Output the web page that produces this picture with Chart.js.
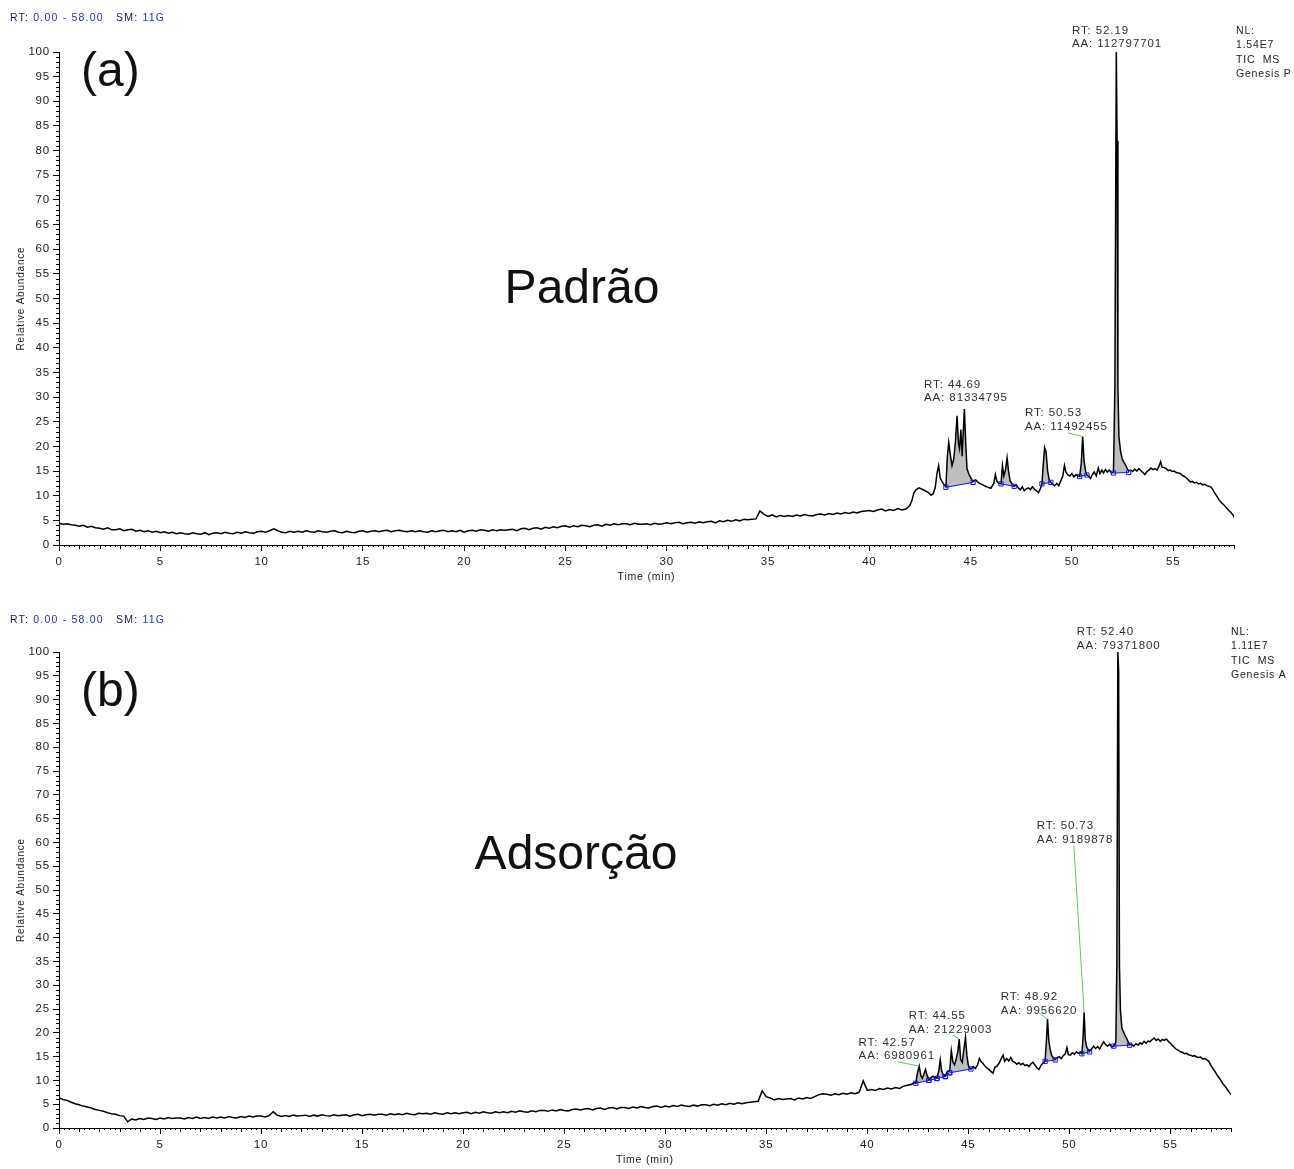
<!DOCTYPE html>
<html>
<head>
<meta charset="utf-8">
<title>TIC MS – Padrão / Adsorção</title>
<script src="https://cdn.jsdelivr.net/npm/chart.js@4.4.1/dist/chart.umd.min.js"></script>
<style>
  html, body { margin: 0; padding: 0; background: #fff; }
  #wrap { position: relative; width: 1294px; height: 1169px; }
  canvas { position: absolute; left: 0; }
  #chartA { top: 0; }
  #chartB { top: 600px; }
</style>
</head>
<body>
<div id="wrap">
  <canvas id="chartA" width="1294" height="600"></canvas>
  <canvas id="chartB" width="1294" height="569"></canvas>
</div>
<script>
// ========== EIXOS ==========
const xTicks = [0, 5, 10, 15, 20, 25, 30, 35, 40, 45, 50, 55];
const yTicks = [0, 5, 10, 15, 20, 25, 30, 35, 40, 45, 50, 55, 60, 65, 70, 75, 80, 85, 90, 95, 100];
const gridStep = 0.2; // min, trecho 0–42 min

// ========== (a) PADRÃO ==========
const gridA = [
  4.4,4.2,4.3,4.1,4.0,3.8,4.0,3.6,3.8,3.5,
  3.4,3.2,3.5,3.1,3.1,3.3,2.9,3.1,3.2,2.8,
  3.0,2.7,2.9,2.6,2.8,2.5,2.7,2.4,2.6,2.3,
  2.5,2.3,2.2,2.5,2.3,2.2,2.5,2.1,2.4,2.5,
  2.3,2.6,2.4,2.3,2.6,2.4,2.7,2.5,2.4,2.7,
  2.8,2.6,2.9,3.3,2.9,2.6,2.5,2.8,2.6,2.8,
  2.6,2.9,2.7,2.6,2.9,2.7,2.6,2.8,2.9,2.6,
  2.5,2.8,2.6,2.5,2.8,2.9,2.6,2.8,2.9,2.7,
  2.9,3.0,2.7,2.9,3.0,2.8,2.7,2.9,2.7,2.9,
  2.7,2.6,2.9,2.7,2.9,3.0,2.7,2.9,2.7,3.0,
  2.6,2.9,3.0,2.8,3.1,3.0,2.8,3.1,2.9,3.1,
  3.0,3.1,3.2,2.9,3.3,3.4,3.1,3.4,3.5,3.2,
  3.6,3.4,3.7,3.5,3.8,3.9,3.6,3.9,3.7,4.0,
  3.9,3.7,4.0,4.1,3.8,4.2,4.0,4.3,4.1,4.3,
  4.3,4.1,4.4,4.2,4.2,4.3,4.1,4.4,4.2,4.3,
  4.5,4.3,4.5,4.6,4.3,4.5,4.6,4.4,4.7,4.5,
  4.7,4.8,4.5,4.9,4.7,5.0,4.8,5.1,4.9,5.2,
  5.1,5.2,5.3,6.9,6.2,5.8,6.1,5.7,6.0,5.8,
  6.0,5.8,6.1,5.9,6.2,6.0,5.9,6.2,6.3,6.1,
  6.4,6.2,6.5,6.3,6.6,6.4,6.7,6.5,6.8,6.9,
  7.0,6.8,7.1,7.3,6.9,7.2,7.0,7.4,7.1,7.3,
  8.0
];
// [min, %] depois de 42 min
const tailA = [
  [42.1,9.0],[42.2,10.6],[42.3,11.2],[42.45,11.6],[42.6,11.3],[42.75,11.0],[42.9,10.7],[43.05,10.1],
  [43.15,10.4],[43.25,11.6],[43.35,14.8],[43.42,16.1],[43.5,13.5],[43.6,12.8],[43.7,12.2],[43.78,11.8],
  [43.85,18.0],[43.92,20.8],[43.99,18.5],[44.08,16.1],[44.17,17.5],[44.25,21.0],[44.33,26.2],[44.4,20.5],
  [44.45,19.5],[44.52,23.4],[44.58,18.0],[44.69,27.6],[44.76,20.5],[44.82,15.5],[44.9,14.5],[44.98,13.8],
  [45.05,13.3],[45.12,12.9],[45.25,13.2],[45.4,12.6],[45.55,12.3],[45.7,12.0],[45.85,11.7],[46.0,11.5],
  [46.15,12.6],[46.22,14.3],[46.3,12.9],[46.4,12.5],[46.5,12.4],[46.57,16.1],[46.64,14.0],[46.72,15.2],
  [46.8,17.7],[46.87,15.0],[46.95,13.0],[47.05,12.4],[47.15,11.9],[47.25,12.2],[47.35,11.6],[47.45,11.2],
  [47.55,11.8],[47.65,11.0],[47.75,11.4],[47.85,11.6],[47.95,11.2],[48.05,11.8],[48.15,11.3],[48.25,11.0],
  [48.35,10.6],[48.45,11.5],[48.52,12.4],[48.58,16.0],[48.65,19.8],[48.72,19.0],[48.8,15.0],[48.88,13.2],
  [48.96,12.7],[49.05,12.3],[49.15,12.0],[49.25,12.5],[49.35,12.0],[49.45,13.0],[49.55,14.0],[49.63,16.1],
  [49.7,14.8],[49.8,14.2],[49.9,14.0],[50.0,14.5],[50.1,13.8],[50.2,14.3],[50.3,14.0],[50.38,13.9],
  [50.46,16.5],[50.53,22.0],[50.6,17.0],[50.68,14.8],[50.74,14.2],[50.82,14.0],[50.92,13.5],[51.0,14.2],
  [51.1,14.8],[51.2,14.0],[51.3,15.6],[51.38,14.5],[51.48,15.2],[51.56,14.6],[51.65,15.3],[51.75,14.8],
  [51.85,15.2],[51.95,14.6],[52.05,14.7],[52.12,32.0],[52.19,100],[52.23,82.0],[52.27,32.0],[52.32,22.0],
  [52.4,19.0],[52.48,17.5],[52.56,16.8],[52.65,16.2],[52.72,15.6],[52.8,15.0],[52.9,15.2],[53.0,14.9],
  [53.1,15.4],[53.2,15.0],[53.3,15.5],[53.4,15.1],[53.5,14.7],[53.6,14.3],[53.7,14.9],[53.8,15.2],
  [53.9,15.6],[54.0,15.3],[54.1,15.5],[54.2,15.2],[54.3,16.0],[54.38,16.9],[54.45,15.8],[54.55,15.7],
  [54.65,15.5],[54.75,15.1],[54.85,15.2],[54.95,14.9],[55.05,15.0],[55.15,14.7],[55.25,14.6],[55.35,14.5],
  [55.45,14.1],[55.55,13.9],[55.65,13.6],[55.75,13.2],[55.85,12.8],[55.95,12.9],[56.05,12.6],[56.15,12.7],
  [56.25,12.4],[56.35,12.5],[56.45,12.2],[56.55,12.3],[56.65,12.1],[56.75,11.9],[56.85,11.8],[56.95,11.3],
  [57.05,10.5],[57.15,9.9],[57.25,9.2],[57.35,8.7],[57.45,8.3],[57.55,7.9],[57.65,7.4],[57.75,7.0],
  [57.85,6.6],[57.95,6.1],[58.0,5.6]
];
// janelas de integração (linha de base azul)
const peakStartA = [43.78, 46.5, 48.52, 50.38, 52.05];
const peakEndA   = [45.12, 47.15, 48.96, 50.74, 52.8];
const baseStartA = [11.7, 12.4, 12.4, 13.9, 14.6];
const baseEndA   = [12.7, 11.9, 12.7, 14.2, 14.7];
const rtA = ['52.19', '44.69', '50.53'];
const aaA = ['112797701', '81334795', '11492455'];

// ========== (b) ADSORÇÃO ==========
const gridB = [
  6.3,6.0,5.8,5.4,5.1,4.9,4.6,4.4,4.2,3.9,
  3.7,3.5,3.2,3.0,2.9,2.6,2.5,1.3,1.9,1.7,
  2.0,1.8,2.1,2.0,1.8,2.1,1.9,2.2,2.0,2.1,
  2.1,1.9,2.2,2.0,2.3,2.0,2.2,2.0,2.3,2.1,
  2.3,2.1,2.4,2.2,2.1,2.4,2.2,2.5,2.3,2.5,
  2.5,2.3,2.6,3.4,2.7,2.4,2.6,2.4,2.7,2.5,
  2.6,2.7,2.4,2.7,2.5,2.8,2.6,2.5,2.8,2.6,
  2.7,2.8,2.5,2.8,2.9,2.6,2.8,2.9,2.7,2.9,
  2.9,2.7,3.0,2.8,3.0,2.8,3.1,2.9,2.8,3.1,
  3.0,3.1,2.9,3.2,3.0,2.9,3.2,3.0,3.2,3.0,
  3.2,3.3,3.0,3.3,3.1,3.4,3.2,3.1,3.4,3.2,
  3.4,3.2,3.5,3.3,3.6,3.4,3.3,3.6,3.4,3.7,
  3.7,3.5,3.8,3.6,3.9,3.7,3.6,3.9,4.0,3.8,
  4.0,4.1,3.8,4.1,4.2,3.9,4.2,4.3,4.0,4.3,
  4.3,4.1,4.4,4.2,4.5,4.3,4.2,4.5,4.6,4.3,
  4.6,4.4,4.7,4.5,4.8,4.6,4.5,4.8,4.6,4.9,
  4.9,4.7,5.0,4.8,5.1,4.9,5.2,5.0,5.3,5.1,
  5.3,5.4,5.5,5.6,7.8,6.6,6.3,5.9,6.2,6.0,
  6.1,6.2,5.9,6.3,6.1,6.4,6.2,6.6,7.0,7.2,
  7.1,6.9,7.2,7.0,7.3,7.1,7.4,7.2,7.5,9.9,
  7.9,8.1,7.9,8.3,8.1,8.4,8.2,8.5,8.3,8.8,
  9.0
];
const tailB = [
  [42.2,9.2],[42.3,9.5],[42.4,9.4],[42.48,11.5],[42.57,13.0],[42.65,11.0],[42.72,10.4],[42.8,11.3],
  [42.88,12.3],[42.96,11.0],[43.05,10.2],[43.15,10.6],[43.25,10.9],[43.35,10.5],[43.45,10.6],[43.54,12.0],
  [43.61,14.3],[43.68,12.0],[43.76,11.2],[43.86,10.9],[43.95,11.8],[44.08,12.0],[44.16,16.2],[44.24,13.8],
  [44.32,13.3],[44.4,14.5],[44.48,16.0],[44.55,18.7],[44.62,14.4],[44.7,13.8],[44.78,16.5],[44.86,19.0],
  [44.93,15.2],[45.0,13.2],[45.07,12.6],[45.13,12.4],[45.25,12.9],[45.35,12.5],[45.45,13.2],[45.55,14.6],
  [45.62,14.0],[45.72,13.6],[45.82,13.0],[45.92,12.6],[46.02,12.3],[46.12,11.9],[46.22,11.5],[46.32,12.8],
  [46.42,13.0],[46.52,13.6],[46.62,14.5],[46.72,15.3],[46.8,14.0],[46.9,14.6],[47.0,14.1],[47.1,14.8],
  [47.2,14.0],[47.3,13.8],[47.4,13.4],[47.5,13.7],[47.6,13.3],[47.7,13.6],[47.8,13.1],[47.9,13.3],
  [48.0,12.9],[48.1,13.5],[48.2,13.8],[48.3,13.2],[48.4,12.6],[48.5,12.3],[48.6,13.2],[48.7,13.6],
  [48.8,14.1],[48.86,18.0],[48.92,22.9],[48.98,18.5],[49.05,16.5],[49.13,15.2],[49.22,14.7],[49.3,14.4],
  [49.4,14.8],[49.5,15.0],[49.6,14.6],[49.7,15.2],[49.8,15.6],[49.88,16.9],[49.95,15.4],[50.05,15.3],
  [50.15,15.8],[50.25,15.5],[50.35,16.0],[50.45,15.7],[50.55,15.9],[50.62,15.6],[50.68,19.0],[50.73,24.3],
  [50.79,18.5],[50.86,17.0],[50.94,16.4],[51.0,16.1],[51.1,16.6],[51.2,17.2],[51.3,16.7],[51.4,17.1],
  [51.5,16.6],[51.6,17.4],[51.7,18.1],[51.8,17.5],[51.9,17.2],[52.0,17.6],[52.1,17.0],[52.2,17.3],
  [52.3,18.0],[52.35,34.0],[52.4,100],[52.44,96.0],[52.48,34.0],[52.53,24.6],[52.6,21.0],[52.68,20.2],
  [52.76,19.4],[52.85,18.7],[52.92,18.0],[52.98,17.5],[53.08,17.6],[53.18,17.2],[53.3,17.7],[53.4,17.4],
  [53.5,17.9],[53.6,17.6],[53.7,18.2],[53.8,17.8],[53.9,18.3],[54.0,18.1],[54.1,18.6],[54.2,18.9],
  [54.3,18.4],[54.4,18.7],[54.5,18.2],[54.6,18.6],[54.7,18.4],[54.8,18.7],[54.9,18.2],[55.0,17.8],
  [55.1,17.3],[55.2,16.9],[55.3,16.5],[55.4,16.3],[55.5,16.0],[55.6,15.9],[55.7,15.6],[55.8,15.7],
  [55.9,15.4],[56.0,15.3],[56.1,15.1],[56.2,15.2],[56.3,14.9],[56.4,14.8],[56.5,14.9],[56.6,14.5],
  [56.7,14.6],[56.8,14.3],[56.9,14.0],[57.0,13.2],[57.1,12.5],[57.2,11.9],[57.3,11.2],[57.4,10.6],
  [57.5,10.0],[57.6,9.3],[57.7,8.8],[57.8,8.2],[57.9,7.6],[58.0,7.0]
];
const peakStartB = [42.4, 43.05, 43.45, 43.86, 44.08, 48.8, 50.62, 52.2];
const peakEndB   = [43.05, 43.45, 43.86, 44.08, 45.13, 49.3, 51.0, 52.98];
const baseStartB = [9.4, 10.0, 10.4, 10.8, 11.6, 14.0, 15.6, 17.2];
const baseEndB   = [10.0, 10.4, 10.8, 11.6, 12.4, 14.3, 16.0, 17.4];
const rtB = ['52.40', '50.73', '48.92', '44.55', '42.57'];
const aaB = ['79371800', '9189878', '9956620', '21229003', '6980961'];

// ========== DESENHO ==========
const FONT = '"Liberation Sans", Arial, sans-serif';
Chart.defaults.font.family = FONT;
Chart.defaults.color = '#1a1a1a';

function buildTrace(grid, tail) {
  const pts = grid.map((v, i) => ({ x: Math.round(i * gridStep * 100) / 100, y: v }));
  tail.forEach(([t, v]) => pts.push({ x: t, y: v }));
  return pts;
}

// ticks menores, textos e anotações dos picos
const chromPlugin = {
  id: 'chrom',
  beforeDraw(chart) { chart.ctx.letterSpacing = '0.8px'; },
  afterDraw(chart) {
    const o = chart.options.plugins.chrom;
    const { ctx, chartArea: ca } = chart;
    const sx = chart.scales.x, sy = chart.scales.y;
    ctx.save();

    ctx.strokeStyle = '#000';
    ctx.lineWidth = 1;
    ctx.beginPath();
    for (let v = 0; v <= 100; v++) {
      if (v % 5 === 0) continue;
      const py = Math.round(sy.getPixelForValue(v)) + 0.5;
      ctx.moveTo(ca.left - 3, py); ctx.lineTo(ca.left, py);
    }
    for (let k = 0; k <= 58 * 4; k++) {
      if (k % 20 === 0) continue;
      const px = Math.round(sx.getPixelForValue(k / 4)) + 0.5;
      const len = k % 4 === 0 ? 4 : 2;
      ctx.moveTo(px, ca.bottom); ctx.lineTo(px, ca.bottom + len);
    }
    ctx.stroke();

    // cabeçalho RT / SM
    ctx.letterSpacing = '1.2px';
    ctx.font = '10.5px ' + FONT;
    ctx.textBaseline = 'middle';
    ctx.textAlign = 'left';
    let hx = 10;
    [['RT: ', '#1c1c4a'], ['0.00 - 58.00', '#2b2bd0'], ['   SM: ', '#1c1c4a'], ['11G', '#2b2bd0']].forEach(([s, c]) => {
      ctx.fillStyle = c; ctx.fillText(s, hx, o.headerY); hx += ctx.measureText(s).width;
    });

    // NL
    ctx.letterSpacing = '0.8px';
    ctx.fillStyle = '#222';
    ctx.font = '10.5px ' + FONT;
    o.nl.forEach((s, i) => ctx.fillText(s, o.nlX, o.nlY + i * 14.5));

    // rótulo do painel e nome da amostra
    ctx.fillStyle = '#111';
    ctx.letterSpacing = '0px';
    ctx.font = '48px ' + FONT;
    ctx.textBaseline = 'alphabetic';
    ctx.fillText(o.tag, 81, o.tagY);
    ctx.textAlign = 'center';
    ctx.fillText(o.name, o.nameX, o.nameY);

    // RT / AA dos picos
    ctx.letterSpacing = '0.9px';
    ctx.font = '11.5px ' + FONT;
    ctx.textAlign = 'left';
    ctx.textBaseline = 'middle';
    const trace = chart.data.datasets[0].data;
    o.rt.forEach((rt, i) => {
      const [lt, lv] = o.labelAt[i];
      const px = sx.getPixelForValue(lt), py = sy.getPixelForValue(lv);
      ctx.fillStyle = '#2e2e2e';
      ctx.fillText('RT: ' + rt, px, py);
      ctx.fillText('AA: ' + o.aa[i], px, py + 13.5);
      const ld = o.leader[i];
      if (ld) {
        const t = parseFloat(rt);
        const apex = trace.reduce((a, b) => Math.abs(b.x - t) < Math.abs(a.x - t) ? b : a);
        ctx.strokeStyle = '#62c462';
        ctx.beginPath();
        ctx.moveTo(px + ld[0], py + ld[1]);
        ctx.lineTo(sx.getPixelForValue(apex.x), sy.getPixelForValue(apex.y));
        ctx.stroke();
      }
    });
    ctx.restore();
  }
};

function makeChart(id, p) {
  const trace = buildTrace(p.grid, p.tail);
  const datasets = [{
    data: trace, borderColor: '#000', borderWidth: 1.5, pointRadius: 0, fill: false, order: 1
  }];
  p.peakStart.forEach((t0, i) => {
    const t1 = p.peakEnd[i];
    const baseIdx = datasets.length;
    datasets.push({
      data: [{ x: t0, y: p.baseStart[i] }, { x: t1, y: p.baseEnd[i] }],
      borderColor: '#1010ff', borderWidth: 1, fill: false, order: 0,
      pointStyle: 'rect', pointRadius: 3, pointBorderWidth: 1,
      pointBorderColor: '#1010ff', pointBackgroundColor: 'rgba(255,255,255,0)'
    });
    datasets.push({
      data: trace.filter(pt => pt.x >= t0 && pt.x <= t1),
      borderWidth: 0, pointRadius: 0, backgroundColor: 'rgb(190,190,190)',
      fill: baseIdx, order: 2
    });
  });

  return new Chart(document.getElementById(id), {
    type: 'line',
    data: { datasets },
    plugins: [chromPlugin],
    options: {
      responsive: false,
      animation: false,
      events: [],
      layout: { padding: { top: 52, right: p.padRight, bottom: 0, left: 0 } },
      plugins: {
        legend: { display: false },
        tooltip: { enabled: false },
        chrom: p.text
      },
      scales: {
        x: {
          type: 'linear', min: 0, max: 58,
          afterBuildTicks: s => { s.ticks = xTicks.map(v => ({ value: v })); },
          afterFit: s => { s.height = p.xAxisHeight; },
          ticks: { font: { size: 11.5 }, color: '#1a1a1a', padding: 4, maxRotation: 0, autoSkip: false },
          grid: { drawOnChartArea: false, tickLength: 6, color: '#000' },
          border: { color: '#000', width: 1 },
          title: { display: true, text: 'Time (min)', font: { size: 10.5 }, color: '#1a1a1a',
                   padding: { top: 0, bottom: p.xTitlePad } }
        },
        y: {
          type: 'linear', min: 0, max: 100,
          afterBuildTicks: s => { s.ticks = yTicks.map(v => ({ value: v })); },
          afterFit: s => { s.width = 59; },
          ticks: { font: { size: 11.5 }, color: '#1a1a1a', padding: 3 },
          grid: { drawOnChartArea: false, tickLength: 6, color: '#000' },
          border: { color: '#000', width: 1 },
          title: { display: true, text: 'Relative Abundance', font: { size: 10 }, color: '#1a1a1a',
                   padding: { top: 15, bottom: 0 } }
        }
      }
    }
  });
}

makeChart('chartA', {
  grid: gridA, tail: tailA,
  peakStart: peakStartA, peakEnd: peakEndA, baseStart: baseStartA, baseEnd: baseEndA,
  padRight: 60, xAxisHeight: 55, xTitlePad: 17,
  text: {
    headerY: 18, tag: '(a)', tagY: 86, name: 'Padrão', nameX: 582, nameY: 303,
    nl: ['NL:', '1.54E7', 'TIC  MS', 'Genesis P'], nlX: 1236, nlY: 31,
    rt: rtA, aa: aaA,
    labelAt: [[50.0, 104.3], [42.7, 32.5], [47.68, 26.8]],
    leader: [null, null, [43, 20]]
  }
});

makeChart('chartB', {
  grid: gridB, tail: tailB,
  peakStart: peakStartB, peakEnd: peakEndB, baseStart: baseStartB, baseEnd: baseEndB,
  padRight: 63, xAxisHeight: 41, xTitlePad: 3,
  text: {
    headerY: 20, tag: '(b)', tagY: 106, name: 'Adsorção', nameX: 576, nameY: 269,
    nl: ['NL:', '1.11E7', 'TIC  MS', 'Genesis A'], nlX: 1231, nlY: 32,
    rt: rtB, aa: aaB,
    labelAt: [[50.37, 104.2], [48.39, 63.4], [46.61, 27.5], [42.05, 23.5], [39.57, 17.9]],
    leader: [null, [37, 19], [38, 16], [44, 19], [39, 19]]
  }
});
</script>
</body>
</html>
